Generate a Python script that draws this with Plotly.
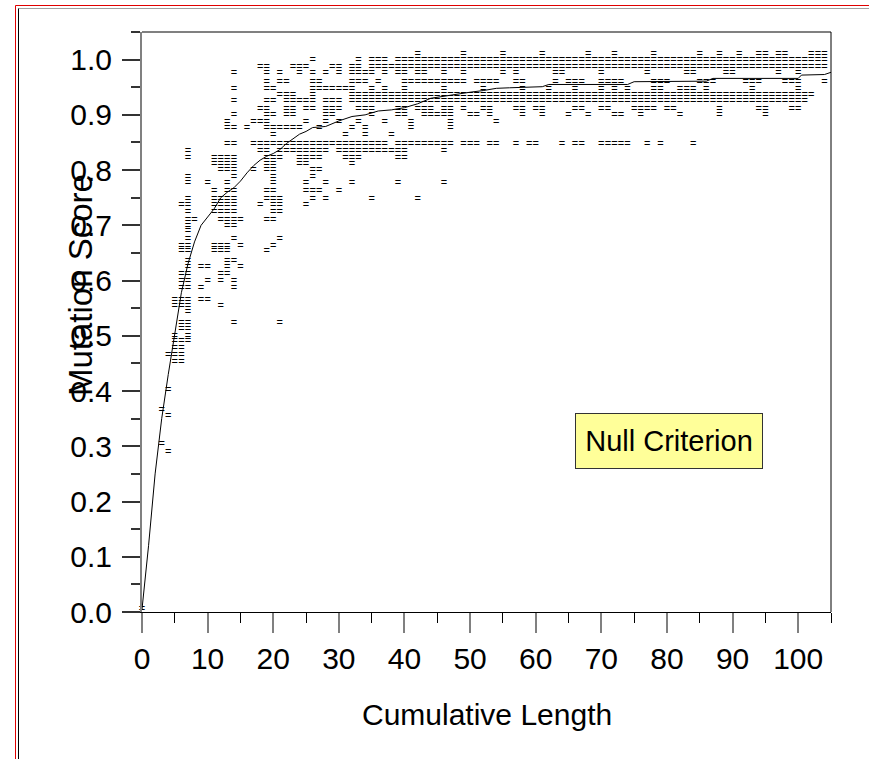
import plotly.graph_objects as go

# ---------------- data ----------------
# Each test suite: cumulative length (x) vs mutation score (y), grouped by score level
SCORE_LEVELS = [
    1.0105, 0.998, 0.986, 0.9755, 0.959, 0.947, 0.935, 0.924, 0.911, 0.899,
    0.887, 0.876, 0.863, 0.847, 0.834, 0.822, 0.81, 0.80, 0.787, 0.777,
    0.762, 0.747, 0.736, 0.723, 0.71, 0.698, 0.689, 0.675, 0.662, 0.653,
    0.635, 0.624, 0.611, 0.599, 0.587, 0.565, 0.553, 0.542, 0.522, 0.511,
    0.499, 0.491, 0.477, 0.464, 0.453, 0.401, 0.366, 0.354, 0.304, 0.29,
    0.005,
]
LENGTHS_AT_LEVEL = [
    [42, 49, 55, 61, 68, 72, 78, 85, 88, 91, 94, 95, 97, 98, 102, 103, 104],
    [26, 33, 35, 36, 37, 39, 40, 41, 42, 43, 44, 45, 46, 47, 48, 49, 50, 51, 52, 53,
     54, 55, 56, 57, 58, 59, 60, 61, 62, 63, 64, 65, 66, 67, 68, 69, 70, 71, 72, 73,
     74, 75, 76, 77, 78, 79, 80, 81, 82, 83, 84, 85, 86, 87, 88, 89, 90, 91, 92, 93,
     94, 95, 96, 97, 98, 99, 100, 101, 102, 103, 104],
    [18, 19, 23, 24, 25, 29, 30, 32, 33, 35, 36, 37, 38, 39, 40, 41, 42, 43, 44, 45,
     46, 47, 48, 49, 50, 51, 52, 53, 54, 55, 56, 57, 58, 59, 60, 61, 62, 63, 64, 65,
     66, 67, 68, 69, 70, 71, 72, 73, 74, 75, 76, 77, 78, 79, 80, 81, 82, 83, 84, 85,
     86, 87, 88, 89, 90, 91, 92, 93, 94, 95, 96, 97, 98, 99, 100, 101, 102, 103, 104],
    [14, 19, 21, 24, 26, 28, 30, 32, 33, 34, 35, 37, 39, 40, 42, 43, 46, 49, 55, 57,
     63, 64, 70, 77, 83, 84, 89, 90, 97, 100],
    [19, 21, 22, 26, 27, 32, 33, 34, 36, 40, 41, 42, 43, 44, 45, 46, 47, 48, 49, 51,
     52, 53, 54, 57, 58, 63, 65, 66, 67, 70, 71, 72, 73, 78, 79, 80, 85, 86, 87, 92,
     93, 94, 98, 99, 100, 104],
    [14, 19, 20, 26, 27, 28, 29, 30, 31, 32, 35, 37, 40, 46, 52, 58, 62, 66, 70, 72,
     74, 78, 79, 82, 83, 84, 86, 93, 100],
    [21, 22, 23, 26, 32, 33, 34, 35, 36, 37, 38, 39, 40, 41, 42, 43, 44, 45, 46, 47,
     48, 49, 50, 51, 52, 53, 54, 55, 56, 57, 58, 59, 60, 61, 62, 63, 64, 65, 66, 67,
     68, 69, 70, 71, 72, 73, 74, 75, 76, 77, 78, 79, 80, 81, 82, 83, 84, 85, 86, 87,
     88, 89, 90, 91, 92, 93, 94, 95, 96, 97, 98, 99, 100, 101, 102],
    [14, 19, 20, 22, 23, 24, 25, 26, 28, 29, 30, 32, 33, 34, 35, 36, 37, 38, 39, 40,
     41, 42, 43, 44, 45, 46, 47, 48, 49, 50, 51, 52, 53, 54, 55, 56, 57, 58, 59, 60,
     61, 62, 63, 64, 65, 66, 67, 68, 69, 70, 71, 72, 73, 74, 75, 76, 77, 78, 79, 80,
     81, 82, 83, 84, 85, 86, 87, 88, 89, 90, 91, 92, 93, 94, 95, 96, 97, 98, 99, 100, 101],
    [18, 19, 22, 23, 25, 26, 28, 29, 30, 33, 34, 35, 39, 40, 42, 43, 44, 46, 47, 49,
     52, 53, 57, 58, 60, 61, 66, 67, 70, 71, 75, 76, 77, 78, 80, 81, 88, 94, 95, 99, 100],
    [14, 19, 20, 22, 23, 28, 29, 35, 39, 40, 43, 44, 45, 46, 47, 50, 51, 53, 58, 61,
     65, 68, 72, 73, 76, 82, 88, 95],
    [13, 17, 18, 19, 25, 28, 30, 33, 37, 41, 47, 54],
    [13, 14, 16, 19, 20, 21, 22, 23, 24, 27, 32, 34, 41, 47],
    [20, 31, 34, 38],
    [13, 14, 17, 18, 19, 20, 21, 22, 23, 24, 25, 26, 27, 28, 29, 30, 31, 32, 33, 34,
     35, 36, 37, 39, 40, 41, 42, 43, 44, 45, 46, 47, 49, 50, 51, 53, 54, 57, 59, 60,
     64, 66, 67, 70, 71, 72, 73, 74, 77, 79, 84],
    [7, 18, 19, 21, 22, 23, 24, 25, 26, 27, 28, 30, 31, 32, 33, 34, 35, 36, 37, 38,
     39, 40, 46],
    [7, 11, 12, 13, 14, 19, 20, 21, 24, 25, 26, 27, 31, 32, 33, 39, 40],
    [11, 12, 13, 14, 19, 20, 24, 25, 32],
    [12, 13, 14, 17, 19, 20, 26, 27],
    [7, 14, 20, 26],
    [7, 10, 13, 20, 25, 28, 32, 39, 46],
    [11, 13, 14, 19, 20, 25, 26, 27, 30],
    [7, 11, 12, 13, 14, 19, 20, 21, 26, 28, 35, 42],
    [6, 7, 11, 12, 13, 14, 18, 20, 21, 25],
    [7, 11, 12, 13, 14, 20, 21],
    [7, 8, 12, 13, 14, 15, 19, 20],
    [7, 13, 14],
    [7],
    [7, 14, 21],
    [6, 7, 11, 12, 13, 15, 20],
    [6, 7, 11, 12, 13, 19],
    [7, 13, 14],
    [7, 9, 10, 13, 15],
    [6, 7, 12, 13],
    [6, 7, 10, 12, 14],
    [6, 7, 9, 14],
    [5, 6, 7, 9, 10],
    [5, 6, 7, 12],
    [7],
    [6, 7, 14, 21],
    [6, 7],
    [5, 7],
    [5, 6, 7],
    [5, 6],
    [4, 5, 6],
    [5, 6],
    [4],
    [3],
    [4],
    [3],
    [4],
    [0],
]

# Mean curve
MEAN_LENGTH = [0, 1, 2, 3, 4, 5, 6, 7, 8, 9, 10, 11, 12, 13, 14, 15, 16, 17, 18, 19,
               20, 21, 22, 23, 24, 25, 26, 28, 30, 32, 34, 36, 38, 40, 42, 44, 46, 48,
               50, 52, 54, 56, 58, 61, 62, 74, 75, 86, 87, 100, 100.5, 104, 105]
MEAN_SCORE = [0.005, 0.12, 0.25, 0.35, 0.43, 0.5, 0.578, 0.63, 0.67, 0.70, 0.715, 0.73,
              0.75, 0.76, 0.768, 0.78, 0.795, 0.808, 0.818, 0.825, 0.83, 0.837, 0.848,
              0.857, 0.865, 0.87, 0.877, 0.879, 0.889, 0.897, 0.9, 0.907, 0.909, 0.913,
              0.92, 0.93, 0.934, 0.937, 0.941, 0.944, 0.948, 0.949, 0.95, 0.951, 0.955,
              0.955, 0.96, 0.961, 0.966, 0.966, 0.972, 0.973, 0.977]

X_TICKS = [0, 10, 20, 30, 40, 50, 60, 70, 80, 90, 100]
Y_TICKS = [0.0, 0.1, 0.2, 0.3, 0.4, 0.5, 0.6, 0.7, 0.8, 0.9, 1.0]

# ---------------- layout geometry ----------------
W, H = 870, 760
ML, MR, MT, MB = 142, 39, 32, 148
PW = W - ML - MR
PH = H - MT - MB
FONT = "Liberation Sans, Arial, sans-serif"


def fx(p):
    return (p - ML) / PW


def fy(p):
    return (H - MB - p) / PH


xs, ys = [], []
for s, lens in zip(SCORE_LEVELS, LENGTHS_AT_LEVEL):
    for v in lens:
        xs.append(v)
        ys.append(s)

fig = go.Figure()
# each suite is drawn as an "=" glyph, as in the reference
fig.add_trace(go.Scatter(
    x=xs, y=ys, mode="text", text=["="] * len(xs),
    textposition="middle center",
    textfont=dict(family=FONT, size=11, color="#000000"),
    cliponaxis=False, showlegend=False, hoverinfo="skip",
))
fig.add_trace(go.Scatter(
    x=MEAN_LENGTH, y=MEAN_SCORE, mode="lines",
    line=dict(color="#000000", width=1), showlegend=False, hoverinfo="skip",
))

fig.update_xaxes(
    range=[0, 105], tickmode="array", tickvals=X_TICKS,
    ticks="outside", ticklen=20, tickwidth=2, tickcolor="#808080",
    showline=True, linecolor="#000000", linewidth=1,
    minor=dict(dtick=5, tick0=0, ticks="outside", ticklen=10, tickwidth=1, tickcolor="#000000"),
    showgrid=False, zeroline=False,
    tickfont=dict(family=FONT, size=30, color="#000000"),
)
fig.update_yaxes(
    range=[0, 1.05], tickmode="array", tickvals=Y_TICKS, tickformat=".1f",
    ticks="outside", ticklen=18, tickwidth=1.5, tickcolor="#333333",
    showline=True, linecolor="#808080", linewidth=2,
    minor=dict(dtick=0.05, tick0=0, ticks="outside", ticklen=9, tickwidth=1.5, tickcolor="#333333"),
    showgrid=False, zeroline=False,
    tickfont=dict(family=FONT, size=30, color="#000000"),
    ticklabelstandoff=4,
)

shapes = [
    # plot frame: top (gray) and right (black)
    dict(type="line", xref="paper", yref="paper", x0=0, x1=1, y0=1, y1=1,
         line=dict(color="#808080", width=2)),
    dict(type="line", xref="paper", yref="paper", x0=1, x1=1, y0=0, y1=1,
         line=dict(color="#000000", width=1)),
    # outer page frame (cut by the right and bottom edges of the picture)
    dict(type="line", xref="paper", yref="paper", x0=fx(15.5), x1=fx(869), y0=fy(5.5), y1=fy(5.5),
         line=dict(color="#e00000", width=1)),
    dict(type="line", xref="paper", yref="paper", x0=fx(15.5), x1=fx(15.5), y0=fy(5.5), y1=fy(759),
         line=dict(color="#e00000", width=1)),
    dict(type="line", xref="paper", yref="paper", x0=fx(18.5), x1=fx(869), y0=fy(8.5), y1=fy(8.5),
         line=dict(color="#a0a0a0", width=1)),
    dict(type="line", xref="paper", yref="paper", x0=fx(18.5), x1=fx(18.5), y0=fy(8.5), y1=fy(759),
         line=dict(color="#000000", width=1)),
]

annotations = [
    dict(text="Mutation Score", xref="paper", yref="paper", x=fx(80), y=fy(285),
         xanchor="center", yanchor="middle", textangle=-90, showarrow=False,
         font=dict(family=FONT, size=33, color="#000000")),
    dict(text="Cumulative Length", xref="paper", yref="paper", x=0.5, y=fy(714),
         xanchor="center", yanchor="middle", showarrow=False,
         font=dict(family=FONT, size=30, color="#000000")),
    dict(text="Null Criterion", xref="paper", yref="paper", x=fx(669), y=fy(441),
         xanchor="center", yanchor="middle", showarrow=False,
         bgcolor="#FFFF99", bordercolor="#333333", borderwidth=1, borderpad=4,
         width=178, height=46,
         font=dict(family=FONT, size=29, color="#000000")),
]

fig.update_layout(
    width=W, height=H,
    margin=dict(l=ML, r=MR, t=MT, b=MB, pad=0),
    paper_bgcolor="#ffffff", plot_bgcolor="#ffffff",
    font=dict(family=FONT, color="#000000"),
    shapes=shapes, annotations=annotations,
    showlegend=False,
)

fig.write_html("out.html", config={"displayModeBar": False})
